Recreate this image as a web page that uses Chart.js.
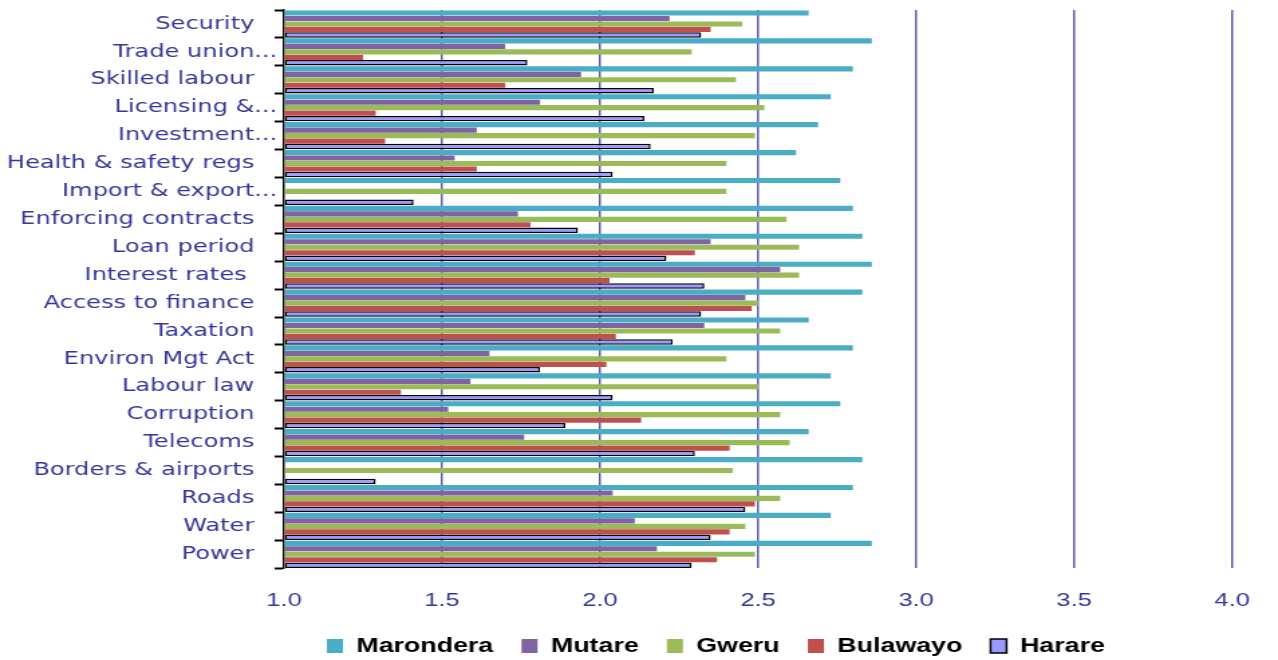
<!DOCTYPE html>
<html>
<head>
<meta charset="utf-8">
<script src="https://cdn.jsdelivr.net/npm/chart.js@4"></script>
<style>
  html, body { margin: 0; padding: 0; background: #fff; overflow: hidden; }
  /* the reference picture is stretched sideways, so draw narrow and stretch */
  #wrap { width: 954px; height: 660px; transform: scaleX(1.3396); transform-origin: 0 0; }
</style>
</head>
<body>
<div id="wrap"><canvas id="chart" width="954" height="660"></canvas></div>
<script>
const categories = [
  "Security   ", "Trade union...", "Skilled labour   ", "Licensing &...", "Investment...",
  "Health & safety regs   ", "Import & export...", "Enforcing contracts   ", "Loan period   ",
  "Interest rates    ", "Access to finance   ", "Taxation   ", "Environ Mgt Act   ",
  "Labour law   ", "Corruption   ", "Telecoms   ", "Borders & airports   ", "Roads   ",
  "Water   ", "Power   "
];

const marondera = [2.66, 2.86, 2.80, 2.73, 2.69, 2.62, 2.76, 2.80, 2.83, 2.86, 2.83, 2.66, 2.80, 2.73, 2.76, 2.66, 2.83, 2.80, 2.73, 2.86];
const mutare    = [2.22, 1.70, 1.94, 1.81, 1.61, 1.54, null, 1.74, 2.35, 2.57, 2.46, 2.33, 1.65, 1.59, 1.52, 1.76, null, 2.04, 2.11, 2.18];
const gweru     = [2.45, 2.29, 2.43, 2.52, 2.49, 2.40, 2.40, 2.59, 2.63, 2.63, 2.50, 2.57, 2.40, 2.50, 2.57, 2.60, 2.42, 2.57, 2.46, 2.49];
const bulawayo  = [2.35, 1.25, 1.70, 1.29, 1.32, 1.61, null, 1.78, 2.30, 2.03, 2.48, 2.05, 2.02, 1.37, 2.13, 2.41, null, 2.49, 2.41, 2.37];
const harare    = [2.32, 1.77, 2.17, 2.14, 2.16, 2.04, 1.41, 1.93, 2.21, 2.33, 2.32, 2.23, 1.81, 2.04, 1.89, 2.30, 1.29, 2.46, 2.35, 2.29];

const xMin = 1.0;
const xMax = 4.0;
const xStep = 0.5;

const labelColor = "#35359a";
const gridColor = "#5c5cac";

function series(label, data, color, border) {
  return {
    label: label,
    data: data,
    base: xMin,
    backgroundColor: color,
    borderColor: border || color,
    borderWidth: border ? 1.5 : 0,
    borderSkipped: false,
    categoryPercentage: 0.98,
    barPercentage: border ? 1.0 : 0.94
  };
}

// nudge the legend a little to the right, as in the original
const shiftLegend = {
  id: "shiftLegend",
  afterLayout(chart) {
    chart.legend.left += 11;
    chart.legend.right += 11;
  }
};

const ctx = document.getElementById("chart");

new Chart(ctx, {
  type: "bar",
  data: {
    labels: categories,
    datasets: [
      series("Marondera", marondera, "#4bacc6"),
      series("Mutare", mutare, "#8064a2"),
      series("Gweru", gweru, "#9bbb59"),
      series("Bulawayo", bulawayo, "#c0504d"),
      series("Harare", harare, "#9999ff", "#000000")
    ]
  },
  plugins: [shiftLegend],
  options: {
    indexAxis: "y",
    responsive: false,
    animation: false,
    layout: { padding: { top: 10, right: 24, left: 0, bottom: -6 } },
    plugins: {
      tooltip: { enabled: false },
      legend: {
        position: "bottom",
        fullSize: false,
        align: "start",
        labels: {
          boxWidth: 12,
          boxHeight: 14,
          padding: 21,
          color: "#000",
          font: { family: "Liberation Sans", weight: "bold", size: 20 }
        }
      }
    },
    scales: {
      x: {
        min: xMin,
        max: xMax,
        afterFit: (scale) => { scale.height -= 18; },
        border: { display: false },
        grid: {
          drawTicks: false,
          lineWidth: 1.5,
          color: (c) => (c.tick && c.tick.value === xMin ? "rgba(0,0,0,0)" : gridColor)
        },
        ticks: {
          stepSize: xStep,
          padding: 21,
          color: labelColor,
          font: { family: "Liberation Sans", size: 19 },
          callback: (v) => Number(v).toFixed(1)
        }
      },
      y: {
        afterFit: (scale) => { scale.width = 212; },
        border: { display: true, color: "#000", width: 1.5 },
        grid: {
          drawOnChartArea: false,
          drawTicks: true,
          tickLength: 7,
          tickWidth: 2,
          tickColor: "#000"
        },
        ticks: {
          padding: -2,
          autoSkip: false,
          color: labelColor,
          font: { family: "DejaVu Sans", size: 18 }
        }
      }
    }
  }
});
</script>
</body>
</html>
